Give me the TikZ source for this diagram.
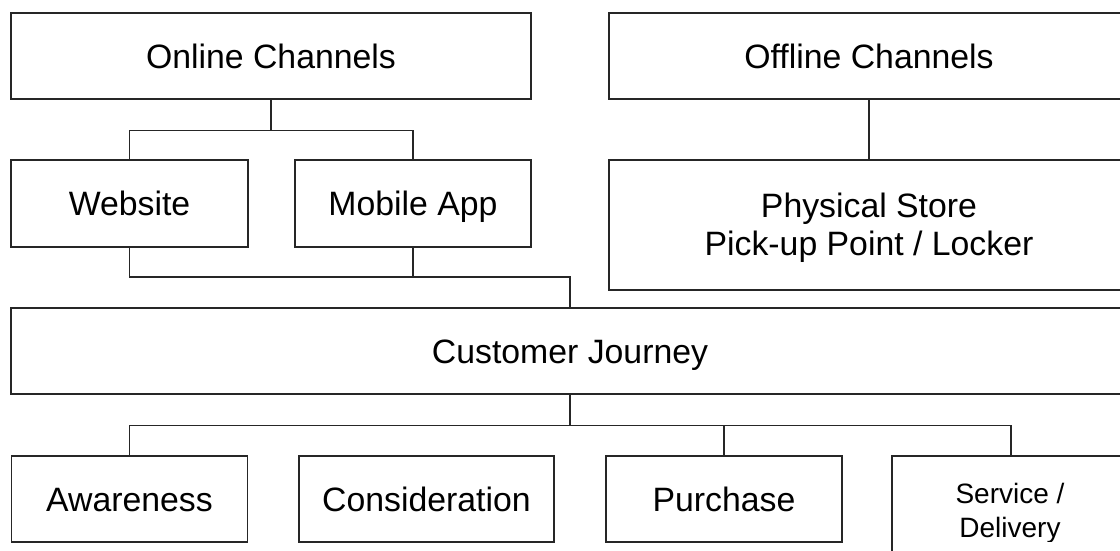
\documentclass[tikz,border=0pt]{standalone}
\usepackage{fontspec}
\setmainfont{Liberation Sans}
\begin{document}
\begin{tikzpicture}[x=1pt,y=-1pt,
  frame/.style={draw=black!85, line width=1.4pt, rectangle, inner sep=0pt},
  box/.style={frame, font=\fontsize{33.8}{38}\selectfont,
    text height=24.2pt, text depth=0pt},
  txt/.style={inner sep=0pt, anchor=base, font=\fontsize{33.8}{38}\selectfont},
  smalltxt/.style={inner sep=0pt, anchor=base, font=\fontsize{28}{34}\selectfont},
  link/.style={draw=black!85, line width=1.3pt}]
\useasboundingbox (0,0) rectangle (1120,550);
\clip (0,0) rectangle (1120,550);

% channel groups
\node[box, minimum width=520pt, minimum height=86pt] (on) at (271,56) {Online Channels};
\node[box, minimum width=520pt, minimum height=86pt] (off) at (869,56) {Offline Channels};
\node[box, minimum width=237pt, minimum height=87pt] (web) at (129.5,203.5) {Website};
\node[box, minimum width=236pt, minimum height=87pt] (app) at (413,203.5) {Mobile App};
\node[frame, minimum width=520pt, minimum height=130pt] (ps) at (869,225) {};
\node[txt] (ps1) at (869,217) {Physical Store};
\node[txt] (ps2) at (869,255) {Pick-up Point / Locker};

% journey and its stages
\node[box, minimum width=1118pt, minimum height=86pt] (cj) at (570,351) {Customer Journey};
\node[box, minimum width=236pt, minimum height=86pt] (aw) at (129.5,499) {Awareness};
\node[box, minimum width=255pt, minimum height=86pt] (co) at (426.5,499) {Consideration};
\node[box, minimum width=236pt, minimum height=86pt] (pu) at (724,499) {Purchase};
\node[frame, minimum width=238pt, minimum height=108pt] (sv) at (1011,510) {};
\begin{scope}
  \clip (892,456) rectangle (1130,541);
  \node[smalltxt] (sv1) at (1010,503) {Service /};
  \node[smalltxt] (sv2) at (1010,537.5) {Delivery};
\end{scope}

% connectors
\draw[link] (on.south) -- ++(0,30.5) coordinate (j1);
\draw[link] (web.north) |- (j1) -| (app.north);
\draw[link] (off.south) -- (ps.north);

\coordinate (j2) at (570,277);
\draw[link] (web.south) |- (j2) -- (cj.north);
\draw[link] (app.south) -- (app.south |- j2);

\draw[link] (cj.south) -- ++(0,31) coordinate (j3);
\draw[link] (aw.north) |- (j3) -| (sv.north);
\draw[link] (pu.north) -- (pu.north |- j3);
\end{tikzpicture}
\end{document}
